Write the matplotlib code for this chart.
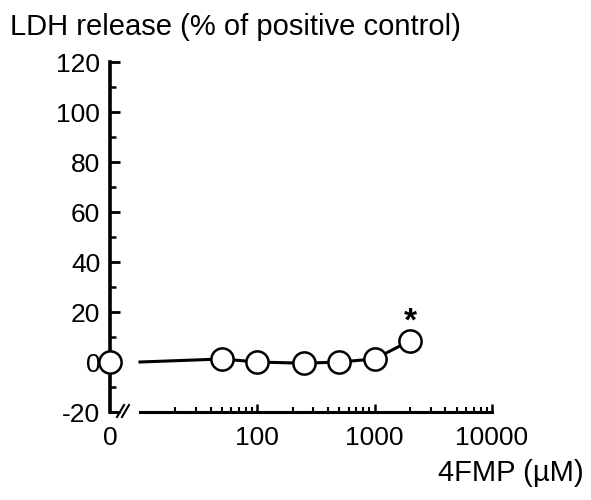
import numpy as np
import matplotlib.pyplot as plt
from matplotlib.ticker import LogLocator, NullFormatter, FixedLocator, MultipleLocator

plt.rcParams['font.family'] = ['Liberation Sans', 'DejaVu Sans']

# data
control_value = 0.0                  # 0 µM, drawn left of the axis break
conc = [50, 100, 250, 500, 1000, 2000]
ldh = [1.2, 0.0, -0.5, 0.0, 1.2, 8.5]
line_start = 10                      # line starts at the break
signif = [2000]
y_ticks = [-20, 0, 20, 40, 60, 80, 100, 120]
x_ticks = [100, 1000, 10000]

fig = plt.figure(figsize=(5.91, 5.00), dpi=100)

# main log axis
ax = fig.add_axes([140 / 591, 88 / 500, 352 / 591, 350 / 500])
ax.set_xscale('log')
ax.set_xlim(10, 10000)
ax.set_ylim(-20, 120)
for s in ['top', 'right', 'left']:
    ax.spines[s].set_visible(False)
ax.spines['bottom'].set_linewidth(2.2)
ax.yaxis.set_visible(False)
ax.xaxis.set_major_locator(FixedLocator(x_ticks))
ax.set_xticklabels([str(t) for t in x_ticks], fontsize=19)
ax.xaxis.set_minor_locator(LogLocator(base=10, subs=np.arange(2, 10)))
ax.xaxis.set_minor_formatter(NullFormatter())
ax.tick_params(axis='x', which='major', direction='in', length=6, width=1.8, pad=10)
ax.tick_params(axis='x', which='minor', direction='in', length=3.5, width=1.5)

ax.plot([line_start] + conc, [control_value] + ldh, color='black', lw=2.2,
        marker=None, zorder=2, clip_on=False)
ax.plot(conc, ldh, linestyle='none', marker='o', ms=16, mfc='white',
        mec='black', mew=1.8, zorder=3, clip_on=False)
for c in signif:
    ax.annotate('*', xy=(c, ldh[conc.index(c)]), xytext=(0, 2),
                textcoords='offset points', ha='center', va='bottom',
                fontsize=24, fontweight='bold')

# zero axis with y spine
ax0 = fig.add_axes([110 / 591, 88 / 500, 6 / 591, 350 / 500])
ax0.set_xlim(0, 1)
ax0.set_ylim(-20, 120)
ax0.patch.set_visible(False)
for s in ['top', 'right']:
    ax0.spines[s].set_visible(False)
ax0.spines['left'].set_linewidth(2.6)
ax0.spines['bottom'].set_linewidth(2.2)
ax0.set_yticks(y_ticks)
ax0.set_yticklabels([str(t) for t in y_ticks], fontsize=19)
ax0.yaxis.set_minor_locator(MultipleLocator(10))
ax0.tick_params(axis='y', which='major', direction='in', length=7, width=2, pad=7)
ax0.tick_params(axis='y', which='minor', direction='in', length=4, width=1.8)
ax0.set_xticks([0])
ax0.set_xticklabels(['0'], fontsize=19)
ax0.tick_params(axis='x', length=0, pad=10)
ax0.plot([0], [control_value], linestyle='none', marker='o', ms=16, mfc='white',
         mec='black', mew=1.8, zorder=3, clip_on=False)

# axis break marks
for dx in [0, 5]:
    fig.add_artist(plt.Line2D([(117 + dx) / 591, (124 + dx) / 591],
                              [(500 - 417) / 500, (500 - 405) / 500],
                              color='black', lw=1.5))

fig.text(10 / 591, 1 - 27 / 500, 'LDH release (% of positive control)',
         fontsize=21, ha='left', va='center')
fig.text(584 / 591, 1 - 473 / 500, '4FMP (µM)', fontsize=21,
         ha='right', va='center')

fig.savefig('out.png', dpi=100)
